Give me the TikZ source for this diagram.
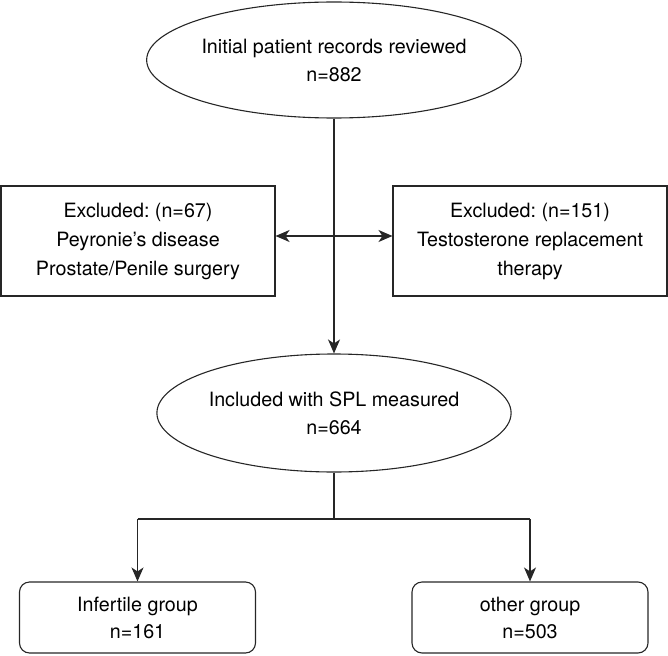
\documentclass[tikz,border=0pt]{standalone}
\usepackage{fontspec}
\setmainfont{TeX Gyre Heros}
\frenchspacing
\usetikzlibrary{shapes.geometric,arrows.meta,calc}
\begin{document}
\begin{tikzpicture}[x=1pt,y=-1pt,
  line width=1.1pt, draw=black!85,
  every node/.style={align=center, inner sep=0pt},
  ell/.style={ellipse, draw, minimum width=354pt, minimum height=116pt, font=\fontsize{19.7}{28}\selectfont},
  exbox/.style={rectangle, draw, minimum width=274pt, minimum height=110pt, font=\fontsize{19.7}{29}\selectfont},
  grpbox/.style={rectangle, rounded corners=10pt, draw, minimum width=236pt, minimum height=71pt, font=\fontsize{19.7}{27}\selectfont},
  arr/.style={-{Stealth[length=14pt,width=12pt,inset=4pt]}},
  darr/.style={{Stealth[length=14pt,width=12pt,inset=4pt]}-{Stealth[length=14pt,width=12pt,inset=4pt]}}
]
\useasboundingbox (0,0) rectangle (668,655);
\node[ell] (top) at (334,60) {Initial patient records reviewed\\n=882};
\node[exbox] (exl) at (138,241) {Excluded: (n=67)\\Peyronie’s disease\\Prostate/Penile surgery};
\node[exbox] (exr) at (530,241) {Excluded: (n=151)\\Testosterone replacement\\therapy};
\node[ell, minimum height=118pt] (mid) at (334,413) {Included with SPL measured\\n=664};
\node[grpbox] (inf) at (137.5,617.5) {Infertile group\\n=161};
\node[grpbox] (oth) at (530,617.5) {other group\\n=503};
\coordinate (split) at (334,519);
\coordinate (sl) at (inf.north |- split);
\coordinate (sr) at (oth.north |- split);
\draw[arr] (top.south) -- (mid.north);
\draw[darr] ([yshift=5pt]exl.east) -- ([yshift=5pt]exr.west);
\draw (mid.south) -- (split);
\draw (sl) -- (sr);
\draw[arr] (sl) -- (inf.north);
\draw[arr] (sr) -- (oth.north);
\end{tikzpicture}
\end{document}
